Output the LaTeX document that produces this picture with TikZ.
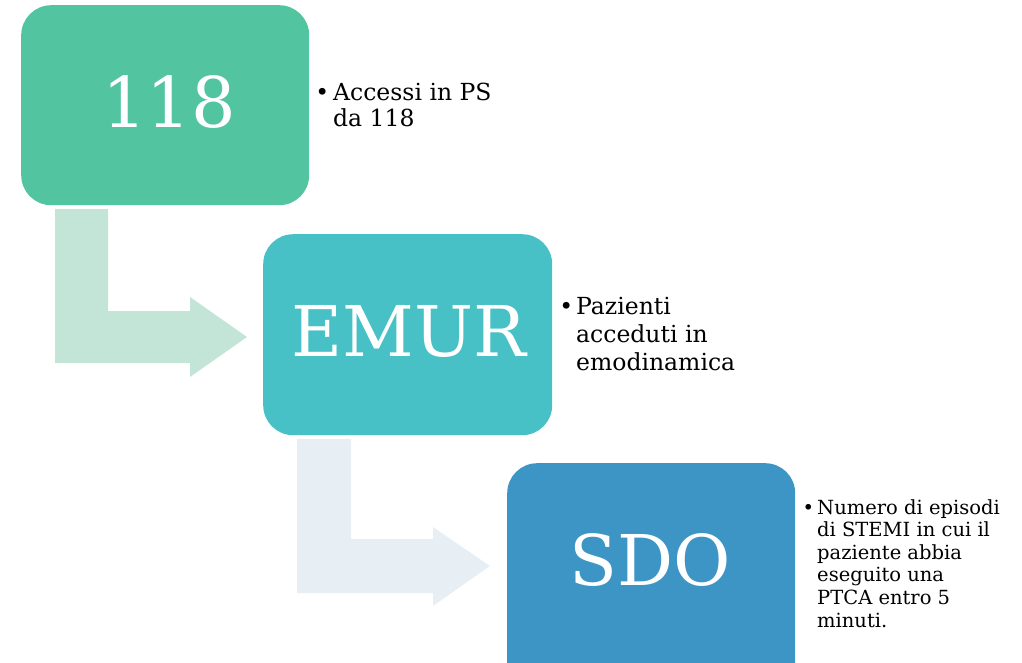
\documentclass[tikz,border=0pt]{standalone}
\usepackage{fontspec}
\setmainfont{DejaVu Serif}
\definecolor{cA}{HTML}{52C4A0}
\definecolor{cAl}{HTML}{C3E5D8}
\definecolor{cB}{HTML}{48C1C6}
\definecolor{cC}{HTML}{3C95C4}
\definecolor{cCl}{HTML}{E7EFF5}
\newcommand{\hbul}[1]{\makebox[0pt][r]{•\hspace{#1}}}
\begin{document}
\begin{tikzpicture}[x=1pt,y=-1pt,
  stagebox/.style={fill=#1, draw=none, rounded corners=30pt, anchor=north west,
    inner sep=0pt},
  stagelabel/.style={text=white, inner sep=0pt, font=\fontsize{70}{70}\selectfont},
  bullettext/.style={anchor=north west, align=left, inner sep=0pt}]
\useasboundingbox (0,0) rectangle (1022,662);
% bent arrows
\fill[cAl] (55,209) -- (108,209) -- (108,311) -- (190,311) -- (190,297) -- (247,337)
  -- (190,377) -- (190,363) -- (55,363) -- cycle;
\fill[cCl] (297,439) -- (351,439) -- (351,539) -- (433,539) -- (433,527) -- (490,566)
  -- (433,606) -- (433,593) -- (297,593) -- cycle;
% boxes
\node[stagebox=cA, minimum width=288pt, minimum height=200pt] (b1) at (21,5) {};
\node[stagelabel] (l1) at (169,102.5) {118};
\node[stagebox=cB, minimum width=289pt, minimum height=201pt] (b2) at (263,234) {};
\node[stagelabel] (l2) at (409,331.5) {EMUR};
\node[stagebox=cC, minimum width=288pt, minimum height=230pt] (b3) at (507,463) {};
\node[stagelabel] (l3) at (650,560.5) {SDO};
% texts
\node[bullettext, font=\fontsize{23.5}{26}\selectfont] (t1) at (333,82.5)
  {\hbul{4pt}Accessi in PS\\da 118};
\node[bullettext, font=\fontsize{23.5}{28}\selectfont] (t2) at (576,297)
  {\hbul{3pt}Pazienti\\acceduti in\\emodinamica};
\node[bullettext, font=\fontsize{19.5}{22.6}\selectfont] (t3) at (817,499)
  {\hbul{3pt}Numero di episodi\\di STEMI in cui il\\paziente abbia\\eseguito una\\PTCA entro 5\\minuti.};
\end{tikzpicture}
\end{document}
